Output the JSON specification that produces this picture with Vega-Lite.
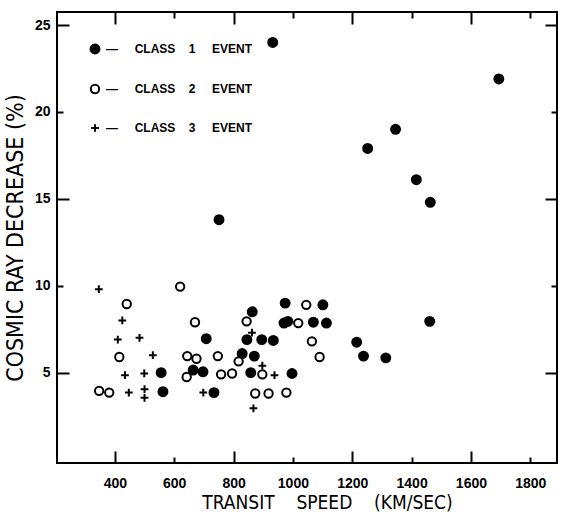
{
  "$schema": "https://vega.github.io/schema/vega-lite/v6.json",
  "width": 500,
  "height": 451,
  "autosize": "none",
  "padding": {"left": 57, "top": 12, "right": 4, "bottom": 51},
  "background": "white",
  "config": {
    "view": {"stroke": "black", "strokeWidth": 2},
    "font": "Liberation Sans",
    "axis": {"domain": false, "grid": false, "labelColor": "black", "tickColor": "black", "titleColor": "black", "tickWidth": 2}
  },
  "data": {
    "values": [
      {"speed": 932, "decrease": 24.0, "cls": "CLASS 1 EVENT"},
      {"speed": 1694, "decrease": 21.9, "cls": "CLASS 1 EVENT"},
      {"speed": 1346, "decrease": 19.0, "cls": "CLASS 1 EVENT"},
      {"speed": 1252, "decrease": 17.9, "cls": "CLASS 1 EVENT"},
      {"speed": 1416, "decrease": 16.1, "cls": "CLASS 1 EVENT"},
      {"speed": 1463, "decrease": 14.8, "cls": "CLASS 1 EVENT"},
      {"speed": 751, "decrease": 13.8, "cls": "CLASS 1 EVENT"},
      {"speed": 708, "decrease": 6.95, "cls": "CLASS 1 EVENT"},
      {"speed": 556, "decrease": 5.0, "cls": "CLASS 1 EVENT"},
      {"speed": 562, "decrease": 3.9, "cls": "CLASS 1 EVENT"},
      {"speed": 664, "decrease": 5.15, "cls": "CLASS 1 EVENT"},
      {"speed": 697, "decrease": 5.05, "cls": "CLASS 1 EVENT"},
      {"speed": 734, "decrease": 3.85, "cls": "CLASS 1 EVENT"},
      {"speed": 829, "decrease": 6.1, "cls": "CLASS 1 EVENT"},
      {"speed": 870, "decrease": 5.95, "cls": "CLASS 1 EVENT"},
      {"speed": 858, "decrease": 5.0, "cls": "CLASS 1 EVENT"},
      {"speed": 863, "decrease": 8.5, "cls": "CLASS 1 EVENT"},
      {"speed": 845, "decrease": 6.9, "cls": "CLASS 1 EVENT"},
      {"speed": 895, "decrease": 6.9, "cls": "CLASS 1 EVENT"},
      {"speed": 934, "decrease": 6.85, "cls": "CLASS 1 EVENT"},
      {"speed": 974, "decrease": 9.0, "cls": "CLASS 1 EVENT"},
      {"speed": 1101, "decrease": 8.9, "cls": "CLASS 1 EVENT"},
      {"speed": 970, "decrease": 7.85, "cls": "CLASS 1 EVENT"},
      {"speed": 983, "decrease": 7.95, "cls": "CLASS 1 EVENT"},
      {"speed": 1069, "decrease": 7.9, "cls": "CLASS 1 EVENT"},
      {"speed": 1113, "decrease": 7.85, "cls": "CLASS 1 EVENT"},
      {"speed": 1215, "decrease": 6.75, "cls": "CLASS 1 EVENT"},
      {"speed": 1238, "decrease": 5.95, "cls": "CLASS 1 EVENT"},
      {"speed": 1313, "decrease": 5.85, "cls": "CLASS 1 EVENT"},
      {"speed": 997, "decrease": 4.95, "cls": "CLASS 1 EVENT"},
      {"speed": 1461, "decrease": 7.95, "cls": "CLASS 1 EVENT"},
      {"speed": 620, "decrease": 9.95, "cls": "CLASS 2 EVENT"},
      {"speed": 440, "decrease": 8.95, "cls": "CLASS 2 EVENT"},
      {"speed": 670, "decrease": 7.9, "cls": "CLASS 2 EVENT"},
      {"speed": 415, "decrease": 5.9, "cls": "CLASS 2 EVENT"},
      {"speed": 644, "decrease": 5.95, "cls": "CLASS 2 EVENT"},
      {"speed": 675, "decrease": 5.8, "cls": "CLASS 2 EVENT"},
      {"speed": 747, "decrease": 5.95, "cls": "CLASS 2 EVENT"},
      {"speed": 642, "decrease": 4.75, "cls": "CLASS 2 EVENT"},
      {"speed": 758, "decrease": 4.9, "cls": "CLASS 2 EVENT"},
      {"speed": 795, "decrease": 4.95, "cls": "CLASS 2 EVENT"},
      {"speed": 817, "decrease": 5.65, "cls": "CLASS 2 EVENT"},
      {"speed": 844, "decrease": 7.95, "cls": "CLASS 2 EVENT"},
      {"speed": 897, "decrease": 4.9, "cls": "CLASS 2 EVENT"},
      {"speed": 347, "decrease": 3.95, "cls": "CLASS 2 EVENT"},
      {"speed": 381, "decrease": 3.85, "cls": "CLASS 2 EVENT"},
      {"speed": 873, "decrease": 3.8, "cls": "CLASS 2 EVENT"},
      {"speed": 918, "decrease": 3.8, "cls": "CLASS 2 EVENT"},
      {"speed": 978, "decrease": 3.85, "cls": "CLASS 2 EVENT"},
      {"speed": 1045, "decrease": 8.9, "cls": "CLASS 2 EVENT"},
      {"speed": 1018, "decrease": 7.85, "cls": "CLASS 2 EVENT"},
      {"speed": 1064, "decrease": 6.8, "cls": "CLASS 2 EVENT"},
      {"speed": 1090, "decrease": 5.9, "cls": "CLASS 2 EVENT"},
      {"speed": 346, "decrease": 9.8, "cls": "CLASS 3 EVENT"},
      {"speed": 425, "decrease": 8.0, "cls": "CLASS 3 EVENT"},
      {"speed": 410, "decrease": 6.9, "cls": "CLASS 3 EVENT"},
      {"speed": 483, "decrease": 7.0, "cls": "CLASS 3 EVENT"},
      {"speed": 528, "decrease": 6.0, "cls": "CLASS 3 EVENT"},
      {"speed": 434, "decrease": 4.85, "cls": "CLASS 3 EVENT"},
      {"speed": 499, "decrease": 4.95, "cls": "CLASS 3 EVENT"},
      {"speed": 447, "decrease": 3.85, "cls": "CLASS 3 EVENT"},
      {"speed": 500, "decrease": 4.05, "cls": "CLASS 3 EVENT"},
      {"speed": 500, "decrease": 3.55, "cls": "CLASS 3 EVENT"},
      {"speed": 698, "decrease": 3.85, "cls": "CLASS 3 EVENT"},
      {"speed": 862, "decrease": 7.3, "cls": "CLASS 3 EVENT"},
      {"speed": 897, "decrease": 5.4, "cls": "CLASS 3 EVENT"},
      {"speed": 938, "decrease": 4.85, "cls": "CLASS 3 EVENT"},
      {"speed": 867, "decrease": 2.95, "cls": "CLASS 3 EVENT"}
    ]
  },
  "layer": [
    {
      "mark": {"type": "point", "filled": true, "stroke": "black", "strokeWidth": 2, "opacity": 1},
      "encoding": {
        "x": {
          "field": "speed", "type": "quantitative",
          "scale": {"domain": [205, 1890], "nice": false, "zero": false},
          "axis": {
            "orient": "bottom",
            "values": [400, 600, 800, 1000, 1200, 1400, 1600, 1800],
            "format": "d",
            "ticks": false,
            "labelFont": "Liberation Sans", "labelFontWeight": "bold", "labelFontSize": 14, "labelColor": "black", "labelPadding": 13,
            "title": "TRANSIT\u00a0\u00a0\u00a0\u00a0SPEED\u00a0\u00a0\u00a0\u00a0(KM/SEC)",
            "titleFont": "Liberation Sans Narrow, Arial Narrow, DejaVu Sans Condensed, Liberation Sans",
            "titleFontSize": 19, "titleFontWeight": "normal", "titlePadding": 3, "titleX": 270
          }
        },
        "y": {
          "field": "decrease", "type": "quantitative",
          "scale": {"domain": [-0.2, 25.75], "nice": false, "zero": false},
          "axis": {
            "orient": "left",
            "values": [5, 10, 15, 20, 25],
            "format": "d",
            "ticks": false,
            "labelFont": "Liberation Sans", "labelFontWeight": "bold", "labelFontSize": 14, "labelColor": "black", "labelPadding": 7,
            "title": "COSMIC RAY DECREASE (%)",
            "titleFont": "Liberation Sans Narrow, Arial Narrow, DejaVu Sans Condensed, Liberation Sans",
            "titleFontSize": 23, "titleFontWeight": "normal", "titlePadding": 7
          }
        },
        "shape": {
          "field": "cls", "type": "nominal",
          "scale": {"domain": ["CLASS 1 EVENT", "CLASS 2 EVENT", "CLASS 3 EVENT"], "range": ["circle", "circle", "M-1,0H1M0,-1V1"]},
          "legend": {
            "orient": "none", "legendX": 32, "legendY": 31, "title": null,
            "labelFont": "Liberation Sans", "labelFontWeight": "bold", "labelFontSize": 12, "labelColor": "black",
            "labelOffset": 5, "rowPadding": 22,
            "symbolStrokeColor": "black", "symbolStrokeWidth": 2,
            "labelExpr": "'—\u00a0\u00a0\u00a0\u00a0\u00a0' + replace(replace(datum.label, ' ', '\u00a0\u00a0\u00a0\u00a0'), ' ', '\u00a0\u00a0\u00a0\u00a0\u00a0')"
          }
        },
        "fill": {
          "field": "cls", "type": "nominal",
          "scale": {"domain": ["CLASS 1 EVENT", "CLASS 2 EVENT", "CLASS 3 EVENT"], "range": ["black", "white", "black"]}
        },
        "size": {
          "field": "cls", "type": "nominal",
          "scale": {"domain": ["CLASS 1 EVENT", "CLASS 2 EVENT", "CLASS 3 EVENT"], "range": [80, 60, 120]}
        }
      }
    },
    {
      "mark": {"type": "point", "opacity": 0},
      "encoding": {
        "x": {
          "field": "speed", "type": "quantitative",
          "scale": {"domain": [205, 1890], "nice": false, "zero": false},
          "axis": {
            "orient": "bottom",
            "values": [400, 600, 800, 1000, 1200, 1400, 1600, 1800],
            "tickSize": {"condition": {"test": "datum.value % 400 === 0", "value": -12}, "value": -6},
            "labels": false, "title": null
          }
        },
        "y": {
          "field": "decrease", "type": "quantitative",
          "scale": {"domain": [-0.2, 25.75], "nice": false, "zero": false},
          "axis": {
            "orient": "left",
            "values": [5, 10, 15, 20, 25],
            "tickSize": {"condition": {"test": "datum.value % 10 === 5", "value": -12}, "value": -6},
            "labels": false, "title": null
          }
        }
      }
    },
    {
      "mark": {"type": "point", "opacity": 0},
      "encoding": {
        "x": {
          "field": "speed", "type": "quantitative",
          "scale": {"domain": [205, 1890], "nice": false, "zero": false},
          "axis": {
            "orient": "top",
            "values": [400, 600, 800, 1000, 1200, 1400, 1600, 1800],
            "tickSize": {"condition": {"test": "datum.value % 400 === 0", "value": -12}, "value": -6},
            "labels": false, "title": null
          }
        },
        "y": {
          "field": "decrease", "type": "quantitative",
          "scale": {"domain": [-0.2, 25.75], "nice": false, "zero": false},
          "axis": {
            "orient": "right",
            "values": [5, 10, 15, 20, 25],
            "tickSize": {"condition": {"test": "datum.value % 10 === 5", "value": -12}, "value": -6},
            "labels": false, "title": null
          }
        }
      }
    }
  ],
  "resolve": {"axis": {"x": "independent", "y": "independent"}}
}
